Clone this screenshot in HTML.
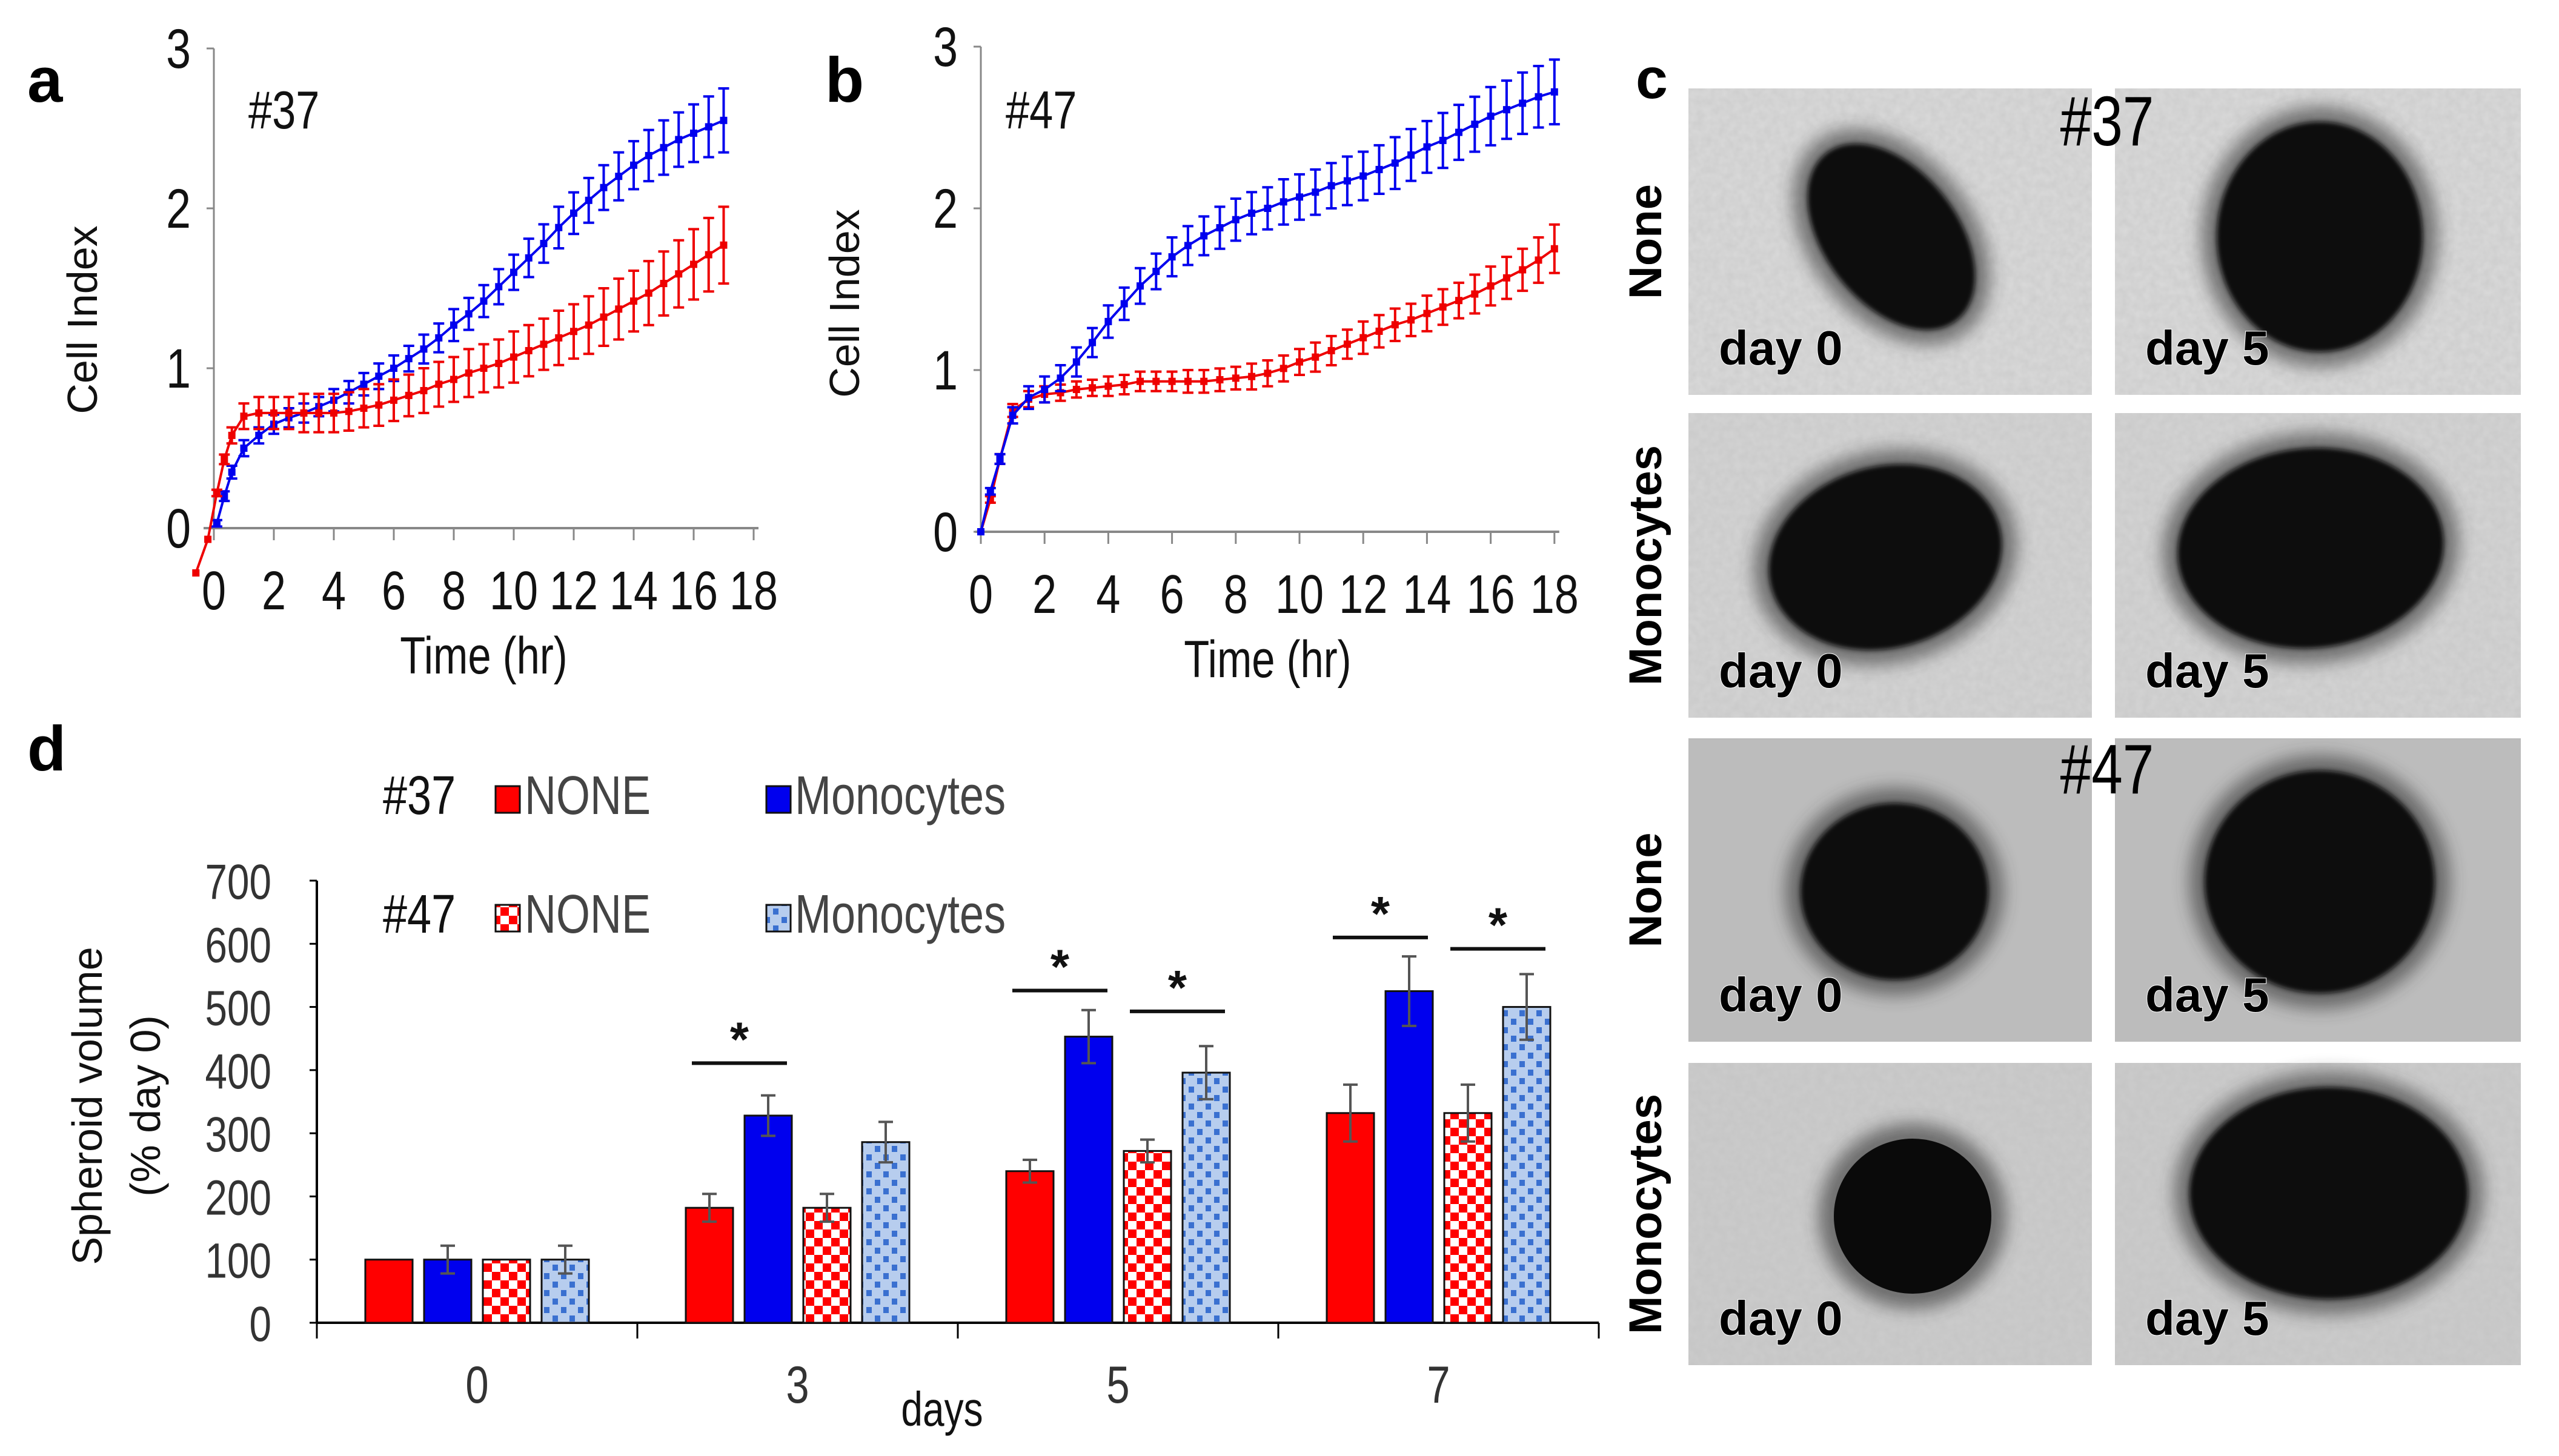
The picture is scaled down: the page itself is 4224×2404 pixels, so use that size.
<!DOCTYPE html>
<html><head><meta charset="utf-8">
<style>
html,body{margin:0;padding:0;background:#fff}
svg{display:block}
.n{font-family:"Liberation Sans Narrow","Liberation Sans",sans-serif}
.s{font-family:"Liberation Sans",sans-serif}
</style></head>
<body>
<svg id="fig" width="4224" height="2404" viewBox="0 0 4224 2404" xmlns="http://www.w3.org/2000/svg">
<defs>
<pattern id="chkRed" width="28" height="28" patternUnits="userSpaceOnUse">
<rect width="28" height="28" fill="#fff"/><rect width="14" height="14" fill="#f00"/><rect x="14" y="14" width="14" height="14" fill="#f00"/>
</pattern>
<pattern id="chkBlue" width="28" height="28" patternUnits="userSpaceOnUse">
<rect width="28" height="28" fill="#b7cdee"/><rect x="2" y="2" width="9" height="10" fill="#3a70d0"/><rect x="16" y="16" width="9" height="10" fill="#3a70d0"/>
</pattern>
<filter id="noise" x="0" y="0" width="100%" height="100%">
<feTurbulence type="fractalNoise" baseFrequency="0.08" numOctaves="2" seed="3"/>
<feColorMatrix type="matrix" values="0 0 0 0 0.5  0 0 0 0 0.5  0 0 0 0 0.5  0 0 0 0.45 0"/>
</filter>
<filter id="blur" x="-50%" y="-50%" width="200%" height="200%"><feGaussianBlur stdDeviation="14"/></filter>
<filter id="blur2" x="-50%" y="-50%" width="200%" height="200%"><feGaussianBlur stdDeviation="4"/></filter>
</defs>

<text x="45" y="168" class="s" font-size="105" font-weight="bold">a</text>
<text x="1362" y="168" class="s" font-size="105" font-weight="bold">b</text>
<text x="2700" y="162" class="s" font-size="95" font-weight="bold">c</text>
<text x="45" y="1272" class="s" font-size="105" font-weight="bold">d</text>

<g id="panelA"></g>
<g id="panelB"></g>
<g id="panelD"></g>
<g id="panelC"></g>
</svg>

<script>
// ===== Panel a data (#37) =====
const aTime = [-0.6,-0.2,0.1,0.35,0.6,1,1.5,2,2.5,3,3.5,4,4.5,5,5.5,6,6.5,7,7.5,8,8.5,9,9.5,10,10.5,11,11.5,12,12.5,13,13.5,14,14.5,15,15.5,16,16.5,17];
const aRed = [-0.28,-0.07,0.22,0.43,0.58,0.7,0.72,0.72,0.72,0.72,0.72,0.72,0.73,0.75,0.77,0.8,0.83,0.86,0.9,0.93,0.97,1.0,1.03,1.07,1.11,1.15,1.19,1.23,1.27,1.32,1.37,1.42,1.47,1.53,1.59,1.65,1.71,1.77];
const aRedErr = [0,0,0.02,0.03,0.05,0.08,0.1,0.1,0.1,0.12,0.12,0.12,0.12,0.12,0.13,0.13,0.13,0.14,0.14,0.14,0.15,0.15,0.15,0.16,0.16,0.16,0.17,0.17,0.18,0.18,0.19,0.19,0.2,0.2,0.21,0.22,0.23,0.24];
const aBlue = [null,null,0.03,0.2,0.35,0.5,0.58,0.65,0.69,0.72,0.76,0.8,0.85,0.9,0.95,1.0,1.06,1.12,1.19,1.27,1.34,1.42,1.51,1.6,1.69,1.78,1.88,1.97,2.05,2.13,2.2,2.27,2.33,2.38,2.43,2.47,2.51,2.55];
const aBlueErr = [0,0,0.02,0.03,0.04,0.05,0.05,0.06,0.06,0.06,0.06,0.07,0.07,0.07,0.08,0.08,0.08,0.09,0.09,0.1,0.1,0.1,0.11,0.11,0.12,0.12,0.13,0.13,0.14,0.14,0.15,0.15,0.16,0.17,0.17,0.18,0.19,0.2];
// ===== Panel b data (#47) =====
const bTime = [0,0.3,0.6,1,1.5,2,2.5,3,3.5,4,4.5,5,5.5,6,6.5,7,7.5,8,8.5,9,9.5,10,10.5,11,11.5,12,12.5,13,13.5,14,14.5,15,15.5,16,16.5,17,17.5,18];
const bBlue = [0,0.25,0.45,0.72,0.83,0.88,0.95,1.05,1.17,1.3,1.41,1.52,1.61,1.7,1.77,1.83,1.88,1.93,1.97,2.0,2.04,2.07,2.1,2.14,2.17,2.2,2.24,2.28,2.33,2.38,2.42,2.47,2.52,2.57,2.61,2.65,2.69,2.72];
const bBlueErr = [0,0.02,0.03,0.05,0.07,0.08,0.08,0.09,0.09,0.1,0.1,0.11,0.11,0.12,0.12,0.12,0.13,0.13,0.13,0.13,0.14,0.14,0.14,0.14,0.15,0.15,0.15,0.16,0.16,0.16,0.17,0.17,0.17,0.18,0.18,0.19,0.19,0.2];
const bRed = [0,0.2,0.45,0.75,0.82,0.85,0.86,0.88,0.89,0.9,0.91,0.93,0.93,0.93,0.93,0.93,0.94,0.95,0.96,0.98,1.01,1.05,1.08,1.12,1.16,1.2,1.24,1.28,1.31,1.35,1.39,1.43,1.47,1.52,1.57,1.62,1.68,1.75];
const bRedErr = [0,0.02,0.03,0.04,0.05,0.05,0.05,0.05,0.05,0.06,0.06,0.06,0.06,0.06,0.07,0.07,0.07,0.07,0.08,0.08,0.08,0.08,0.09,0.09,0.09,0.1,0.1,0.1,0.1,0.11,0.11,0.11,0.12,0.12,0.13,0.13,0.14,0.15];
const timeTicks = [0,2,4,6,8,10,12,14,16,18];
const ciTicks = [0,1,2,3];
// ===== Panel d data =====
const dayCats = ["0","3","5","7"];
const none37 = [100,182,240,332];
const none37Err = [0,22,18,45];
const mono37 = [100,328,453,525];
const mono37Err = [22,32,42,55];
const none47 = [100,182,272,332];
const none47Err = [0,22,18,45];
const mono47 = [100,286,396,500];
const mono47Err = [22,32,42,52];
const volTicks = [0,100,200,300,400,500,600,700];
const sigCat = [1,2,2,3,3];
const sigFrom = [0,0,2,0,2];
const sigTo = [1,1,3,1,3];
const sigVal = [411,526,493,610,592];

const NS="http://www.w3.org/2000/svg";
function mk(parent,tag,attrs,text){
  const e=document.createElementNS(NS,tag);
  if(tag==='text' && attrs.class==='n'){
    // condensed text: compress horizontally around its anchor point
    const x=attrs.x||0,y=attrs.y||0,base=attrs.transform||'';
    attrs=Object.assign({},attrs,{x:0,y:0,transform:`translate(${x},${y}) ${base} scale(0.8,1)`});
  }
  for(const k in attrs)e.setAttribute(k,attrs[k]);
  if(text!==undefined)e.textContent=text;
  parent.appendChild(e);return e;}

function lineChart(g,cfg){
  const x=t=>cfg.x0+t*cfg.xs, y=v=>cfg.y0-v*cfg.ys;
  const ya=mk(g,'line',{x1:cfg.x0,y1:y(0),x2:cfg.x0,y2:y(3),stroke:'#888','stroke-width':3});
  
  
  const xa=mk(g,'line',{x1:cfg.xa0,y1:y(0),x2:x(18)+8,y2:y(0),stroke:'#888','stroke-width':4});
  
  
  ciTicks.forEach(v=>{
    const tk=mk(g,'line',{x1:cfg.x0-12,y1:y(v),x2:cfg.x0,y2:y(v),stroke:'#888','stroke-width':3});
    
    
    const tl=mk(g,'text',{x:cfg.x0-38,y:y(v)+32,'text-anchor':'end','font-size':92,class:'n',fill:'#111'},String(v));
    
    
  });
  timeTicks.forEach(t=>{
    const tk=mk(g,'line',{x1:x(t),y1:y(0),x2:x(t),y2:y(0)+20,stroke:'#888','stroke-width':3});
    
    
    const tl=mk(g,'text',{x:x(t),y:cfg.y0+134,'text-anchor':'middle','font-size':90,class:'n',fill:'#111'},String(t));
    
    
  });
  const xt=mk(g,'text',{x:x(9),y:cfg.y0+240,'text-anchor':'middle','font-size':86,class:'n',fill:'#111'},'Time (hr)');
  
  
  const yt=mk(g,'text',{x:0,y:0,'text-anchor':'middle','font-size':70,class:'s',fill:'#111',transform:`translate(${cfg.ytx},${cfg.yty}) rotate(-90)`},'Cell Index');
  
  
  const lb=mk(g,'text',{x:cfg.lx,y:212,'font-size':88,class:'n',fill:'#111'},cfg.label);
  
  
  cfg.series.forEach(s=>{
    const sg=mk(g,'g',{});
    
    
    let d='';
    s.vals.forEach((v,i)=>{
      if(v===null)return;
      const px=x(s.t[i]),e=s.err[i];
      d+=(d?'L':'M')+px+','+y(v);
      if(e>0){
        const eb=mk(sg,'path',{d:`M${px},${y(v-e)}V${y(v+e)}M${px-9},${y(v+e)}h18M${px-9},${y(v-e)}h18`,stroke:s.color,'stroke-width':4,fill:'none'});
        
        
      }
      const pt=mk(sg,'rect',{x:px-6,y:y(v)-6,width:12,height:12,fill:s.color});
      
      
    });
    const ln=mk(sg,'path',{d,stroke:s.color,'stroke-width':4,fill:'none'});
    
    
  });
}
lineChart(document.getElementById('panelA'),{x0:353,xs:49.5,y0:872,ys:264,xa0:336,ytx:160,yty:528,lx:410,label:'#37',
  series:[{name:'monocytes-series-37',t:aTime,vals:aBlue,err:aBlueErr,color:'#0000ee'},{name:'none-series-37',t:aTime,vals:aRed,err:aRedErr,color:'#ee0000'}]});
lineChart(document.getElementById('panelB'),{x0:1619,xs:52.6,y0:878,ys:267,xa0:1610,ytx:1418,yty:501,lx:1660,label:'#47',
  series:[{name:'none-series-47',t:bTime,vals:bRed,err:bRedErr,color:'#ee0000'},{name:'monocytes-series-47',t:bTime,vals:bBlue,err:bBlueErr,color:'#0000ee'}]});

// ===== Panel d =====
(function(){
  const g=document.getElementById('panelD');
  const X0=523,CW=529,Y0=2184,YS=730/700;
  const y=v=>Y0-v*YS;
  const barX=(c,j)=>X0+c*CW+80+j*97;
  const ya=mk(g,'line',{x1:X0,y1:Y0,x2:X0,y2:y(700),stroke:'#000','stroke-width':4});
  
  
  const xa=mk(g,'line',{x1:X0,y1:Y0,x2:X0+4*CW,y2:Y0,stroke:'#000','stroke-width':4});
  
  
  volTicks.forEach(v=>{
    const tk=mk(g,'line',{x1:X0-12,y1:y(v),x2:X0,y2:y(v),stroke:'#000','stroke-width':3});
    
    
    const tl=mk(g,'text',{x:448,y:y(v)+30,'text-anchor':'end','font-size':82,class:'n',fill:'#333'},String(v));
    
    
  });
  for(let c=0;c<=4;c++){
    const tk=mk(g,'line',{x1:X0+c*CW,y1:Y0,x2:X0+c*CW,y2:Y0+26,stroke:'#000','stroke-width':3});
    
    
  }
  dayCats.forEach((c,i)=>{
    const tl=mk(g,'text',{x:X0+i*CW+CW/2,y:2316,'text-anchor':'middle','font-size':86,class:'n',fill:'#333'},c);
    
    
  });
  const xt=mk(g,'text',{x:1555,y:2354,'text-anchor':'middle','font-size':80,class:'n',fill:'#111'},'days');
  
  
  const yt1=mk(g,'text',{x:0,y:0,'text-anchor':'middle','font-size':70,class:'s',fill:'#111',transform:'translate(168,1826) rotate(-90)'},'Spheroid volume');
  
  
  const yt2=mk(g,'text',{x:0,y:0,'text-anchor':'middle','font-size':70,class:'s',fill:'#111',transform:'translate(264,1826) rotate(-90)'},'(% day 0)');
  
  
  const series=[
    {name:'bar-37-none',v:none37,e:none37Err,fill:'#ff0000'},
    {name:'bar-37-monocytes',v:mono37,e:mono37Err,fill:'#0000ee'},
    {name:'bar-47-none',v:none47,e:none47Err,fill:'url(#chkRed)'},
    {name:'bar-47-monocytes',v:mono47,e:mono47Err,fill:'url(#chkBlue)'}];
  series.forEach((s,j)=>{
    s.v.forEach((v,c)=>{
      const bx=barX(c,j);
      const r=mk(g,'rect',{x:bx,y:y(v),width:78,height:v*YS,fill:s.fill,stroke:'#111','stroke-width':3});
      
      
      if(s.e[c]>0){
        const cx=bx+39;
        const eb=mk(g,'path',{d:`M${cx},${y(v-s.e[c])}V${y(v+s.e[c])}M${cx-12},${y(v+s.e[c])}h24M${cx-12},${y(v-s.e[c])}h24`,stroke:'#555','stroke-width':4,fill:'none'});
        
        
      }
    });
  });
  sigVal.forEach((v,k)=>{
    const x1=barX(sigCat[k],sigFrom[k])+10, x2=barX(sigCat[k],sigTo[k])+70;
    const sl=mk(g,'line',{x1,y1:y(v),x2,y2:y(v),stroke:'#111','stroke-width':6});
    
    
    const st=mk(g,'text',{x:(x1+x2)/2,y:y(v)-12,'text-anchor':'middle','font-size':80,'font-weight':'bold',class:'s',fill:'#111'},'*');
    
    
  });
  const leg=[
    {t:'#37',y:1310,a:'#ff0000',b:'#0000ee'},
    {t:'#47',y:1506,a:'url(#chkRed)',b:'url(#chkBlue)'}];
  leg.forEach(L=>{
    const lg=mk(g,'g',{});
    
    
    mk(lg,'text',{x:632,y:L.y+34,'font-size':90,class:'n',fill:'#111'},L.t);
    mk(lg,'rect',{x:818,y:L.y-12,width:40,height:44,fill:L.a,stroke:'#111','stroke-width':3});
    mk(lg,'text',{x:866,y:L.y+34,'font-size':90,class:'n',fill:'#444'},'NONE');
    mk(lg,'rect',{x:1265,y:L.y-12,width:40,height:44,fill:L.b,stroke:'#111','stroke-width':3});
    mk(lg,'text',{x:1312,y:L.y+34,'font-size':90,class:'n',fill:'#444'},'Monocytes');
  });
})();

// ===== Panel c images =====
(function(){
  const g=document.getElementById('panelC');
  const rows=[[146,652],[682,1185],[1219,1720],[1755,2254]];
  const cols=[[2787,3453],[3491,4161]];
  const bgs=['#dadada','#d4d4d4','#bcbcbc','#cccccc'];
  const sph=[[3122,391,110,175,-38,1],[3829,391,170,190,0,1],[3112,920,195,150,-15,1],[3814,905,220,165,-5,1],
             [3127,1472,155,146,0,1],[3829,1456,190,184,0,1],[3157,2008,130,128,0,0],[3844,1970,230,175,0,1]];
  const names=['none','monocytes','none','monocytes'];
  rows.forEach((r,ri)=>{
    cols.forEach((c,ci)=>{
      const ig=mk(g,'g',{});
      
      
      mk(ig,'rect',{x:c[0],y:r[0],width:c[1]-c[0],height:r[1]-r[0],fill:bgs[ri]});
      mk(ig,'rect',{x:c[0],y:r[0],width:c[1]-c[0],height:r[1]-r[0],filter:'url(#noise)'});
      const s=sph[ri*2+ci];
      mk(ig,'ellipse',{cx:s[0],cy:s[1],rx:s[2]+25,ry:s[3]+25,fill:'#333',opacity:0.6,filter:'url(#blur)',transform:`rotate(${s[4]} ${s[0]} ${s[1]})`});
      mk(ig,'ellipse',{cx:s[0],cy:s[1],rx:s[2],ry:s[3],fill:'#0a0a0a',filter:s[5]?'url(#blur2)':'',transform:`rotate(${s[4]} ${s[0]} ${s[1]})`});
      const t=mk(ig,'text',{x:c[0]+50,y:r[1]-50,'font-size':80,'font-weight':'bold',class:'s',fill:'#000',stroke:'#fff','stroke-width':2,'paint-order':'stroke'},ci?'day 5':'day 0');
      
      
    });
    const rl=mk(g,'text',{x:0,y:0,'text-anchor':'middle','font-size':76,'font-weight':'bold',class:'s',fill:'#000',transform:`translate(2742,${(r[0]+r[1])/2}) rotate(-90)`},ri%2?'Monocytes':'None');
    
    
  });
  const l1=mk(g,'text',{x:3478,y:240,'text-anchor':'middle','font-size':116,class:'n',fill:'#000'},'#37');
  
  
  const l2=mk(g,'text',{x:3478,y:1310,'text-anchor':'middle','font-size':116,class:'n',fill:'#000'},'#47');
  
  
})();
</script>
</body></html>
